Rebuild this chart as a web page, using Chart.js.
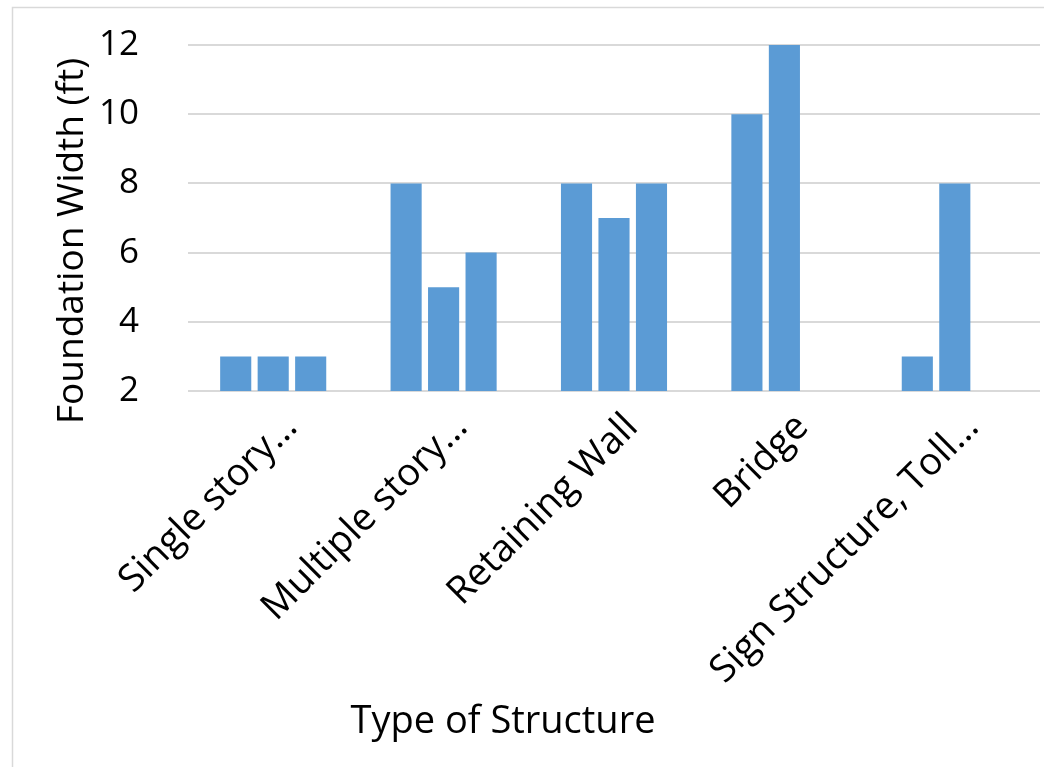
<!DOCTYPE html>
<html>
<head>
<meta charset="utf-8">
<style>
  html, body { margin: 0; padding: 0; background: #ffffff; }
  #wrap { width: 1044px; height: 767px; }
</style>
<script src="https://cdn.jsdelivr.net/npm/chart.js@4/dist/chart.umd.min.js"></script>
</head>
<body>
<div id="wrap"><canvas id="chart" width="1044" height="767"></canvas></div>
<script>
// Structure types (x categories)
const categories = [
  'Single story…',
  'Multiple story…',
  'Retaining Wall',
  'Bridge',
  'Sign Structure, Toll…'
];
// Foundation widths (ft), one array per bar position within a category
const seriesA = [3, 8, 8, 10, 3];
const seriesB = [3, 5, 7, 12, 8];
const seriesC = [3, 6, 8, null, null];

const yTicks = [2, 4, 6, 8, 10, 12];
const yTitle = 'Foundation Width (ft)';
const xTitle = 'Type of Structure';

const FONT = "'Open Sans', 'Noto Sans', sans-serif";
const BAR = '#5B9BD5';
const GRID = '#D9D9D9';

// Light outer frame and the two axis titles
const framePlugin = {
  id: 'frame',
  beforeDraw(chart) {
    const ctx = chart.ctx;
    ctx.save();
    ctx.strokeStyle = GRID;
    ctx.lineWidth = 1.5;
    ctx.strokeRect(12.5, 7.5, chart.width + 20, chart.height + 20);
    ctx.restore();
  },
  afterDraw(chart) {
    const ctx = chart.ctx;
    ctx.save();
    ctx.fillStyle = '#000000';
    ctx.textAlign = 'center';
    ctx.textBaseline = 'alphabetic';
    ctx.font = `38px ${FONT}`;
    ctx.fillText(xTitle, 503, 733);
    ctx.font = `37px ${FONT}`;
    ctx.translate(83, 241);
    ctx.rotate(-Math.PI / 2);
    ctx.fillText(yTitle, 0, 0);
    ctx.restore();
  }
};

const mk = (data) => ({
  data,
  backgroundColor: BAR,
  borderWidth: 0,
  categoryPercentage: 0.66,
  barPercentage: 0.83
});

new Chart(document.getElementById('chart'), {
  type: 'bar',
  data: {
    labels: categories,
    datasets: [mk(seriesA), mk(seriesB), mk(seriesC)]
  },
  options: {
    responsive: false,
    animation: false,
    layout: { padding: { top: 45, right: 4, left: 0, bottom: 0 } },
    plugins: { legend: { display: false }, tooltip: { enabled: false } },
    scales: {
      x: {
        grid: { display: false },
        border: { display: false },
        ticks: {
          color: '#000000',
          font: { family: FONT, size: 38 },
          minRotation: 45,
          maxRotation: 45,
          autoSkip: false,
          padding: 6,
          labelOffset: 18
        },
        afterFit(scale) { scale.height = 767 - 391; }
      },
      y: {
        min: yTicks[0],
        max: yTicks[yTicks.length - 1],
        afterBuildTicks(scale) { scale.ticks = yTicks.map(v => ({ value: v })); },
        grid: { color: GRID, lineWidth: 2, drawTicks: false },
        border: { display: false },
        ticks: {
          color: '#000000',
          font: { family: FONT, size: 35 },
          padding: 49
        },
        afterFit(scale) {
          scale.width = 188;
          scale.paddingTop = 0;
          scale.paddingBottom = 0;
        }
      }
    }
  },
  plugins: [framePlugin]
});
</script>
</body>
</html>
